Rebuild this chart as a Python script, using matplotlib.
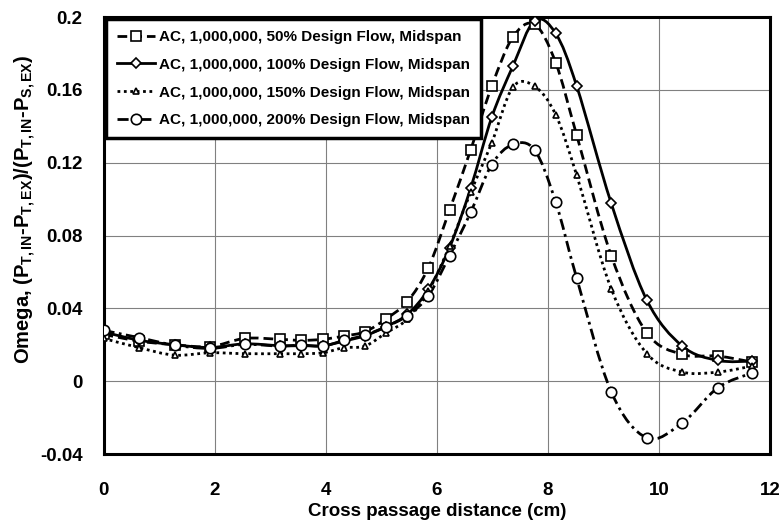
import matplotlib
matplotlib.use("Agg")
import matplotlib.pyplot as plt
import numpy as np
from matplotlib.lines import Line2D
from matplotlib.path import Path
from matplotlib.patches import PathPatch

# -------------------- Data --------------------------

distance = [0, 0.64, 1.28, 1.92, 2.54, 3.17, 3.56, 3.95, 4.33, 4.71, 5.09, 5.47,
            5.85, 6.23, 6.61, 6.99, 7.37, 7.76, 8.14, 8.52, 9.14, 9.78, 10.42,
            11.06, 11.68]

omega_50 = [0.0257, 0.022, 0.020, 0.019, 0.0235, 0.023, 0.0224, 0.023, 0.0248,
            0.0272, 0.0343, 0.0437, 0.0624, 0.094, 0.127, 0.162, 0.189, 0.196,
            0.175, 0.135, 0.069, 0.0266, 0.0147, 0.0138, 0.0105]

omega_100 = [0.027, 0.0225, 0.020, 0.0185, 0.0205, 0.0195, 0.0195, 0.0195, 0.022,
             0.025, 0.030, 0.0367, 0.0505, 0.0734, 0.106, 0.145, 0.173, 0.198,
             0.191, 0.162, 0.0978, 0.0446, 0.0193, 0.0114, 0.011]

omega_150 = [0.0235, 0.0184, 0.0143, 0.0156, 0.0151, 0.0151, 0.0151, 0.0156,
             0.0184, 0.0193, 0.0266, 0.034, 0.0495, 0.0743, 0.1037, 0.131,
             0.1615, 0.162, 0.1464, 0.113, 0.0508, 0.0152, 0.005, 0.005, 0.0083]

omega_200 = [0.0279, 0.0239, 0.0198, 0.018, 0.0202, 0.0193, 0.0198, 0.0193,
             0.0224, 0.0253, 0.030, 0.036, 0.047, 0.069, 0.0927, 0.119, 0.130,
             0.127, 0.0985, 0.0565, -0.0058, -0.0311, -0.0229, -0.0036, 0.0046]

labels = [
    "AC, 1,000,000, 50% Design Flow, Midspan",
    "AC, 1,000,000, 100% Design Flow, Midspan",
    "AC, 1,000,000, 150% Design Flow, Midspan",
    "AC, 1,000,000, 200% Design Flow, Midspan",
]

x_ticks = [0, 2, 4, 6, 8, 10, 12]
y_ticks = [-0.04, 0, 0.04, 0.08, 0.12, 0.16, 0.2]
y_tick_labels = ["-0.04", "0", "0.04", "0.08", "0.12", "0.16", "0.2"]

# -------------------- Styles --------------------------

SERIES_STYLE = [
    {"ls": (0, (3.5, 1.8)), "marker": "s", "ms": 7.0},
    {"ls": "-", "marker": "D", "ms": 5.5},
    {"ls": (0, (1, 1.3)), "marker": "^", "ms": 5.0},
    {"ls": (0, (4, 1.6, 1, 1.6)), "marker": "o", "ms": 7.5},
]


def _smooth_path(xs, ys):
    """Excel-like smoothed line: cubic Bezier through every point."""
    pts = np.column_stack([xs, ys])
    n = len(pts)
    verts = [pts[0]]
    codes = [Path.MOVETO]
    for i in range(n - 1):
        p0 = pts[max(i - 1, 0)]
        p1 = pts[i]
        p2 = pts[i + 1]
        p3 = pts[min(i + 2, n - 1)]
        verts += [p1 + (p2 - p0) / 6, p2 - (p3 - p1) / 6, p2]
        codes += [Path.CURVE4] * 3
    return Path(verts, codes)


plt.rcParams.update({
    "font.family": "Liberation Sans",
    "font.weight": "bold",
    "axes.labelweight": "bold",
    "mathtext.fontset": "custom",
    "mathtext.rm": "Liberation Sans:bold",
    "mathtext.it": "Liberation Sans:bold",
    "mathtext.bf": "Liberation Sans:bold",
    "mathtext.default": "rm",
})

fig = plt.figure(figsize=(7.82, 5.27), dpi=100)
ax = fig.add_axes([0.1324, 0.1385, 0.8523, 0.8292])

series = [omega_50, omega_100, omega_150, omega_200]
handles = []
for vals, style, label in zip(series, SERIES_STYLE, labels):
    patch = PathPatch(_smooth_path(distance, vals), fill=False,
                      edgecolor="black", linewidth=2.0,
                      linestyle=style["ls"], zorder=3)
    ax.add_patch(patch)
    ax.plot(distance, vals, linestyle="none", marker=style["marker"],
            ms=style["ms"], mfc="white", mec="black", mew=1.2, zorder=4)
    handles.append(Line2D([], [], color="black", lw=2.0, linestyle=style["ls"],
                          marker=style["marker"], ms=style["ms"],
                          mfc="white", mec="black", mew=1.2, label=label))

ax.set_xlim(0, 12)
ax.set_ylim(-0.04, 0.2)
ax.set_xticks(x_ticks)
ax.set_yticks(y_ticks)
ax.set_yticklabels(y_tick_labels)
ax.tick_params(length=0, labelsize=13.5)
ax.tick_params(axis="x", pad=20)
ax.tick_params(axis="y", pad=15)
ax.grid(True, color="#808080", linewidth=0.8)
ax.set_axisbelow(True)
for sp in ax.spines.values():
    sp.set_linewidth(2.2)

ax.set_xlabel("Cross passage distance (cm)", fontsize=13.5, labelpad=3)
ax.set_ylabel("Omega, (P$_{T,IN}$-P$_{T,EX}$)/(P$_{T,IN}$-P$_{S,EX}$)",
              fontsize=14.5)
ax.yaxis.set_label_coords(-0.098, 0.56)

leg = ax.legend(handles=handles, loc="upper left", fancybox=False,
                framealpha=1, edgecolor="black", fontsize=11,
                borderaxespad=0.15, handlelength=2.5, labelspacing=0.9,
                borderpad=0.7, handletextpad=0.3)
leg.get_frame().set_linewidth(2.5)

fig.savefig("out.png", dpi=100)
